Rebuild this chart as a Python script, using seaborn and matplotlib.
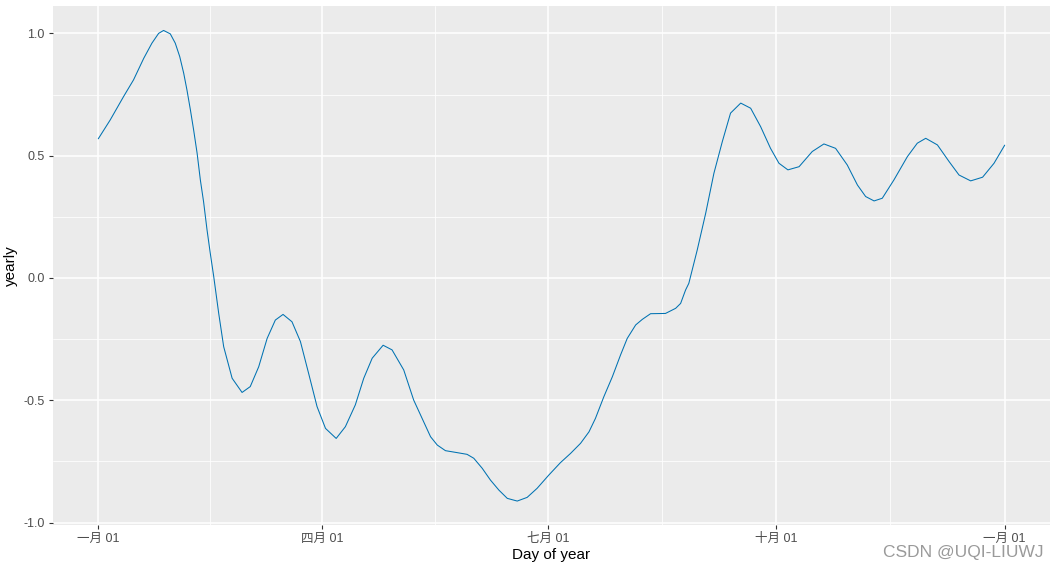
import pandas as pd
import matplotlib
matplotlib.use('Agg')
import matplotlib.pyplot as plt
import seaborn as sns

# yearly seasonality (day of year, value)
days = [0, 4.8, 10.2, 14.2, 18.3, 21.6, 24.3, 26.3, 29, 31, 32.8, 34.4, 35.7,
        37.1, 38.4, 39.8, 41.1, 42.4, 43.8, 45.1, 46.5, 48.5, 50.5, 53.9,
        57.9, 61.2, 64.6, 68, 71.3, 74.4, 78, 81.4, 84.7, 88.1, 91.5, 95.8,
        99.5, 103.5, 106.9, 110.3, 114.7, 118.3, 123, 127, 133.8, 136.5,
        139.8, 144.5, 148.5, 151.2, 154.6, 157.9, 161.3, 164.7, 168.7, 172.7,
        176.7, 181.4, 186.1, 190.2, 194.2, 197.6, 200.2, 203.6, 207, 210.3,
        213, 216.4, 219.1, 222.4, 228.4, 232.5, 234.5, 236.5, 237.8, 241.2,
        244.6, 247.9, 251.3, 254.6, 258.7, 262.7, 266.7, 270.7, 274.1, 277.7,
        282.2, 287.5, 292.2, 296.9, 301.6, 305.7, 309, 312.4, 315.7, 320.4,
        325.8, 329.8, 333.2, 337.9, 342.6, 346.6, 351.3, 356.1, 360.7, 365]
yearly = [0.569, 0.646, 0.742, 0.81, 0.898, 0.96, 1.0, 1.012, 0.998, 0.96,
          0.905, 0.837, 0.769, 0.687, 0.605, 0.51, 0.401, 0.312, 0.196, 0.101,
          0.005, -0.145, -0.281, -0.41, -0.468, -0.444, -0.363, -0.247,
          -0.172, -0.149, -0.179, -0.26, -0.39, -0.526, -0.615, -0.656,
          -0.608, -0.519, -0.41, -0.328, -0.275, -0.294, -0.376, -0.499,
          -0.649, -0.683, -0.706, -0.714, -0.721, -0.737, -0.778, -0.826,
          -0.867, -0.901, -0.912, -0.897, -0.86, -0.806, -0.755, -0.717,
          -0.676, -0.629, -0.574, -0.485, -0.404, -0.315, -0.247, -0.192,
          -0.169, -0.146, -0.145, -0.124, -0.104, -0.049, -0.022, 0.115,
          0.265, 0.428, 0.558, 0.674, 0.715, 0.694, 0.619, 0.53, 0.469, 0.442,
          0.455, 0.517, 0.548, 0.53, 0.462, 0.38, 0.333, 0.315, 0.326, 0.401,
          0.496, 0.551, 0.571, 0.544, 0.476, 0.421, 0.397, 0.412, 0.469, 0.543]

tick_days = [0, 90, 181, 273, 365]
tick_labels = ['一月 01', '四月 01', '七月 01', '十月 01', '一月 01']
minor_days = [45, 135.5, 227, 319]
y_ticks = [-1.0, -0.5, 0.0, 0.5, 1.0]
y_minor = [-0.75, -0.25, 0.25, 0.75]

df = pd.DataFrame({'day': days, 'yearly': yearly})

sns.set_style('darkgrid')
plt.rcParams['font.family'] = ['Liberation Sans', 'Noto Sans CJK SC', 'DejaVu Sans']

fig = plt.figure(figsize=(10.57, 5.70), dpi=100)
ax = fig.add_axes([0.0501, 0.0789, 0.9433, 0.9106])
ax.set_facecolor('#EBEBEB')

sns.lineplot(data=df, x='day', y='yearly', color='#0072B2', linewidth=0.75,
             ax=ax, sort=True)

ax.set_xlim(-18.25, 383.25)
ax.set_ylim(-1.010, 1.112)

ax.set_xticks(tick_days)
ax.set_xticklabels(tick_labels)
ax.set_xticks(minor_days, minor=True)
ax.set_yticks(y_ticks)
ax.set_yticklabels(['-1.0', '-0.5', '0.0', '0.5', '1.0'])
ax.set_yticks(y_minor, minor=True)

ax.grid(which='major', color='white', linewidth=1.1)
ax.grid(which='minor', color='white', linewidth=0.55)
ax.set_axisbelow(True)
for s in ax.spines.values():
    s.set_visible(False)

ax.tick_params(which='major', length=3, width=0.8, color='#333333',
               labelcolor='#4D4D4D', labelsize=9, pad=3, direction='out')
ax.tick_params(which='minor', length=0)
ax.tick_params(axis='x', bottom=True)
ax.tick_params(axis='y', left=True)

ax.set_xlabel('Day of year', fontsize=11, color='black', labelpad=2)
ax.set_ylabel('yearly', fontsize=11, color='black', labelpad=4)

# watermark as in the reference
fig.text(0.987, 0.030, 'CSDN @UQI-LIUWJ', ha='right', va='center',
         fontsize=12.5, color='#9a9a9a')

fig.savefig('out.png', dpi=100)
